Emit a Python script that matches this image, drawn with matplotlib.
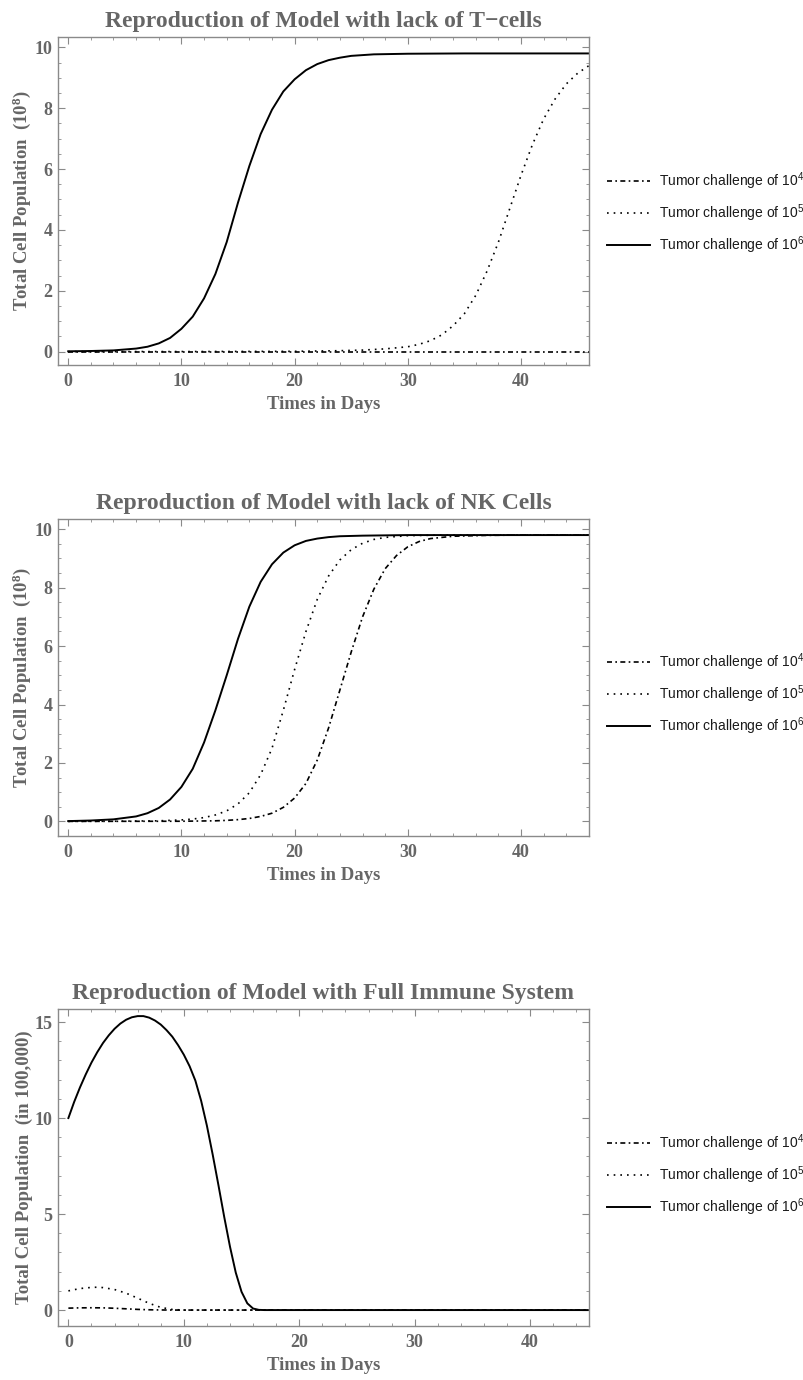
import matplotlib
matplotlib.use("Agg")
import matplotlib.pyplot as plt
from matplotlib.ticker import MultipleLocator

plt.rcParams["font.family"] = "Liberation Serif"
plt.rcParams["font.weight"] = "bold"
plt.rcParams["mathtext.default"] = "regular"

# Panel 1: lack of T-cells (units of 10^8 cells)
p1_t_1e4 = [0, 10, 20, 30, 40, 46]
p1_v_1e4 = [0.0001, 0.0001, 0.0001, 0.0001, 0.0001, 0.0001]
p1_t_1e5 = [0, 10, 20, 24, 26, 28, 30, 31, 32, 33, 34, 35, 36, 37, 38, 39, 40, 41, 42, 43, 44, 45, 46]
p1_v_1e5 = [0.001, 0.002, 0.01, 0.03, 0.05, 0.09, 0.16, 0.24, 0.36, 0.55, 0.85, 1.25, 1.85, 2.65,
            3.6, 4.7, 5.8, 6.8, 7.65, 8.3, 8.8, 9.15, 9.4]
p1_t_1e6 = [0, 2, 4, 6, 7, 8, 9, 10, 11, 12, 13, 14, 15, 16, 17, 18, 19, 20, 21, 22, 23, 24, 25,
            27, 30, 35, 40, 46]
p1_v_1e6 = [0.01, 0.02, 0.04, 0.1, 0.16, 0.27, 0.45, 0.75, 1.15, 1.75, 2.55, 3.6, 4.9, 6.1, 7.15,
            7.95, 8.55, 8.95, 9.25, 9.45, 9.58, 9.66, 9.72, 9.77, 9.79, 9.8, 9.8, 9.8]

# Panel 2: lack of NK cells (units of 10^8 cells)
p2_t_1e4 = [0, 10, 13, 14, 15, 16, 17, 18, 19, 20, 21, 22, 23, 24, 25, 26, 27, 28, 29, 30, 31, 32,
            34, 37, 40, 46]
p2_v_1e4 = [0.0002, 0.005, 0.02, 0.035, 0.06, 0.1, 0.17, 0.28, 0.48, 0.8, 1.3, 2.1, 3.2, 4.5, 5.8,
            7.0, 7.95, 8.65, 9.1, 9.4, 9.58, 9.68, 9.76, 9.79, 9.8, 9.8]
p2_t_1e5 = [0, 4, 8, 10, 11, 12, 13, 14, 15, 16, 17, 18, 19, 20, 21, 22, 23, 24, 25, 26, 27, 28,
            30, 33, 40, 46]
p2_v_1e5 = [0.002, 0.005, 0.02, 0.05, 0.08, 0.13, 0.22, 0.36, 0.6, 0.98, 1.6, 2.5, 3.8, 5.2, 6.5,
            7.6, 8.4, 8.95, 9.3, 9.52, 9.65, 9.72, 9.78, 9.8, 9.8, 9.8]
p2_t_1e6 = [0, 2, 4, 6, 7, 8, 9, 10, 11, 12, 13, 14, 15, 16, 17, 18, 19, 20, 21, 22, 23, 24, 26,
            30, 40, 46]
p2_v_1e6 = [0.01, 0.03, 0.07, 0.17, 0.28, 0.46, 0.75, 1.18, 1.8, 2.7, 3.8, 5.0, 6.25, 7.35, 8.2,
            8.8, 9.2, 9.45, 9.6, 9.68, 9.73, 9.76, 9.78, 9.8, 9.8, 9.8]

# Panel 3: full immune system (units of 100,000 cells)
p3_t_1e4 = [0, 1, 2, 3, 4, 5, 6, 7, 8, 9, 20, 30, 45]
p3_v_1e4 = [0.1, 0.115, 0.12, 0.115, 0.095, 0.065, 0.035, 0.015, 0.005, 0.0, 0.0, 0.0, 0.0]
p3_t_1e5 = [0, 1, 2, 2.5, 3, 4, 5, 6, 7, 8, 9, 10, 20, 30, 45]
p3_v_1e5 = [1.0, 1.12, 1.18, 1.19, 1.17, 1.07, 0.88, 0.62, 0.35, 0.14, 0.03, 0.0, 0.0, 0.0, 0.0]
p3_t_1e6 = [0, 0.5, 1, 1.5, 2, 2.5, 3, 3.5, 4, 4.5, 5, 5.5, 6, 6.5, 7, 7.5, 8, 8.5, 9, 9.5, 10,
            10.5, 11, 11.5, 12, 12.5, 13, 13.5, 14, 14.5, 15, 15.5, 16, 16.5, 17, 25, 35, 45]
p3_v_1e6 = [10.0, 10.84, 11.59, 12.27, 12.89, 13.43, 13.91, 14.31, 14.65, 14.92, 15.12, 15.25,
            15.31, 15.31, 15.23, 15.08, 14.87, 14.58, 14.24, 13.8, 13.3, 12.7, 11.95, 10.9, 9.6,
            8.1, 6.5, 4.85, 3.3, 1.95, 0.95, 0.35, 0.08, 0.01, 0.0, 0.0, 0.0, 0.0]

labels = ["Tumor challenge of 10$^4$", "Tumor challenge of 10$^5$", "Tumor challenge of 10$^6$"]

TEXT_GRAY = "#666666"
FRAME_GRAY = "#8a8a8a"
W, H = 804, 1380

fig = plt.figure(figsize=(W / 100, H / 100), dpi=100)


def make_panel(top, bottom, title, ylabel, xlim, ylim, ystep, yminor, data, legend_y):
    ax = fig.add_axes([58 / W, 1 - bottom / H, (589 - 58) / W, (bottom - top) / H])
    h = bottom - top
    (t4, v4), (t5, v5), (t6, v6) = data
    l4, = ax.plot(t4, v4, color="black", lw=1.2, linestyle=(0, (3, 2, 1, 2)))
    l5, = ax.plot(t5, v5, color="black", lw=1.2, linestyle=(0, (1, 3)))
    l6, = ax.plot(t6, v6, color="black", lw=1.4)
    ax.set_xlim(*xlim)
    ax.set_ylim(*ylim)
    ax.xaxis.set_major_locator(MultipleLocator(10))
    ax.xaxis.set_minor_locator(MultipleLocator(2))
    ax.yaxis.set_major_locator(MultipleLocator(ystep))
    ax.yaxis.set_minor_locator(MultipleLocator(yminor))
    ax.tick_params(which="both", direction="in", top=True, right=True, color=FRAME_GRAY,
                   labelcolor=TEXT_GRAY, labelsize=13)
    ax.tick_params(which="major", length=5, width=0.8)
    ax.tick_params(which="minor", length=2.5, width=0.6)
    ax.tick_params(axis="x", pad=6)
    ax.tick_params(axis="y", pad=4)
    for s in ax.spines.values():
        s.set_color(FRAME_GRAY)
        s.set_linewidth(1.0)
    ax.set_title(title, fontsize=17, fontweight="bold", color=TEXT_GRAY, pad=7)
    ax.set_xlabel("Times in Days", fontsize=13.5, fontweight="bold", color=TEXT_GRAY)
    ax.xaxis.set_label_coords(0.5, -31 / h)
    ax.set_ylabel(ylabel, fontsize=13.5, fontweight="bold", color=TEXT_GRAY)
    ax.yaxis.set_label_coords(-25 / 531, 0.5)
    fig.legend([l4, l5, l6], labels, loc="center left", bbox_to_anchor=(607 / W, 1 - legend_y / H),
               frameon=False, borderpad=0, borderaxespad=0, handlelength=3.1, handletextpad=0.65,
               labelspacing=0.75, labelcolor="#1a1a1a",
               prop={"family": "Liberation Sans", "weight": "normal", "size": 10})
    return ax


make_panel(37, 365, "Reproduction of Model with lack of T\u2212cells",
           "Total Cell Population  (10$^8$)", (-0.9, 46.0), (-0.44, 10.34), 2, 0.5,
           [(p1_t_1e4, p1_v_1e4), (p1_t_1e5, p1_v_1e5), (p1_t_1e6, p1_v_1e6)], 213)
make_panel(519, 836, "Reproduction of Model with lack of NK Cells",
           "Total Cell Population  (10$^8$)", (-0.9, 46.0), (-0.5, 10.35), 2, 0.5,
           [(p2_t_1e4, p2_v_1e4), (p2_t_1e5, p2_v_1e5), (p2_t_1e6, p2_v_1e6)], 694)
make_panel(1009, 1326, "Reproduction of Model with Full Immune System",
           "Total Cell Population  (in 100,000)", (-0.9, 45.1), (-0.83, 15.68), 5, 1,
           [(p3_t_1e4, p3_v_1e4), (p3_t_1e5, p3_v_1e5), (p3_t_1e6, p3_v_1e6)], 1175)

fig.savefig("out.png", dpi=100)
